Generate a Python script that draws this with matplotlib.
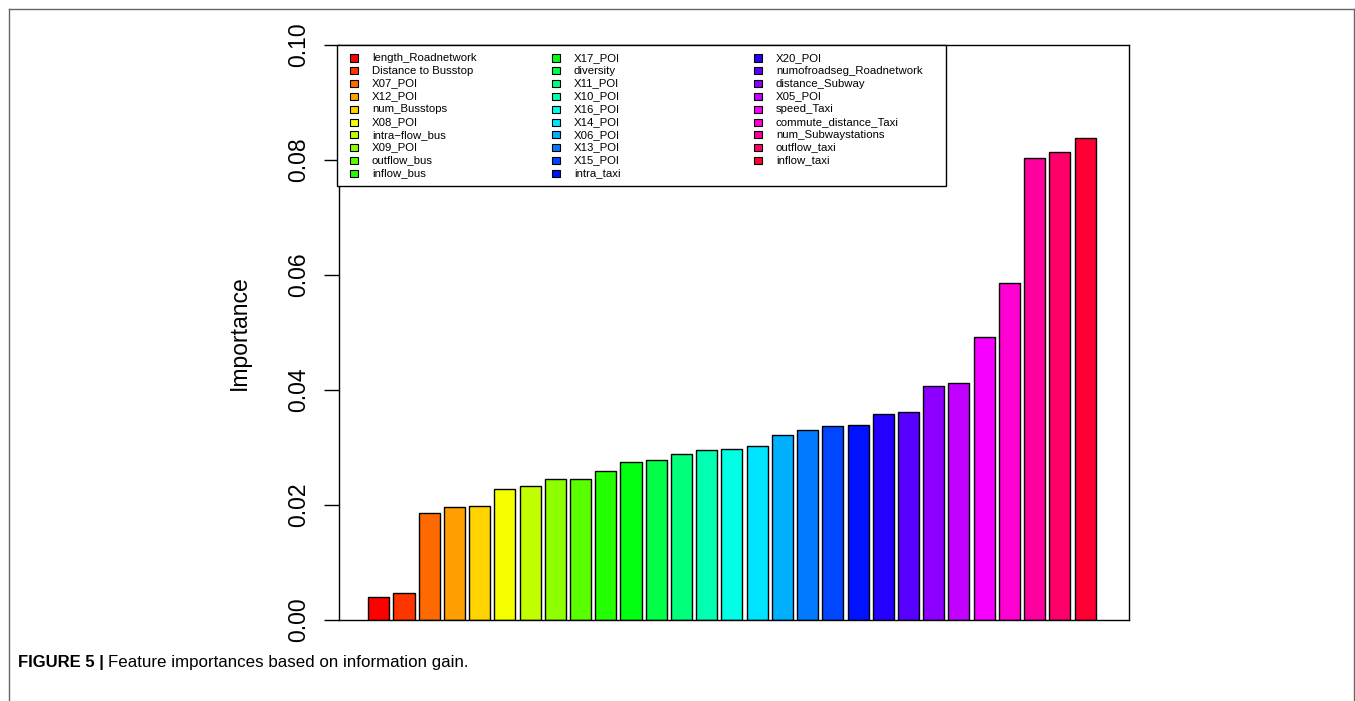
"""
Feature importance barplot (information gain)
"""

import colorsys

import matplotlib

matplotlib.use("Agg")
import matplotlib.pyplot as plt
from matplotlib.lines import Line2D
from matplotlib.patches import Rectangle

plt.rcParams["font.family"] = ["Liberation Sans", "DejaVu Sans"]

# データ
features = [
    "length_Roadnetwork", "Distance to Busstop", "X07_POI", "X12_POI",
    "num_Busstops", "X08_POI", "intra\u2212flow_bus", "X09_POI", "outflow_bus",
    "inflow_bus", "X17_POI", "diversity", "X11_POI", "X10_POI", "X16_POI",
    "X14_POI", "X06_POI", "X13_POI", "X15_POI", "intra_taxi", "X20_POI",
    "numofroadseg_Roadnetwork", "distance_Subway", "X05_POI", "speed_Taxi",
    "commute_distance_Taxi", "num_Subwaystations", "outflow_taxi", "inflow_taxi",
]
importance = [
    0.00405, 0.00464, 0.01855, 0.01965, 0.01983, 0.02284, 0.02330, 0.02446,
    0.02458, 0.02586, 0.02754, 0.02783, 0.02893, 0.02962, 0.02980, 0.03032,
    0.03217, 0.03304, 0.03380, 0.03397, 0.03577, 0.03612, 0.04070, 0.04122,
    0.04916, 0.05855, 0.08035, 0.08139, 0.08383,
]
y_ticks = [0.00, 0.02, 0.04, 0.06, 0.08, 0.10]

W, H = 1355, 701
n = len(features)
# R の rainbow(n) 相当
colors = [colorsys.hsv_to_rgb(i / n, 1, 1) for i in range(n)]

fig = plt.figure(figsize=(W / 100, H / 100), dpi=100)


def fx(px):
    return px / W


def fy(py):
    return 1 - py / H


ax_l, ax_r, ax_t, ax_b = 339, 1129, 45, 620
ax = fig.add_axes([fx(ax_l), fy(ax_b), fx(ax_r - ax_l), fy(ax_t) - fy(ax_b)])

# barplot (space = 0.2, width = 1)
xs = [0.7 + 1.2 * i for i in range(n)]
ax.bar(xs, importance, width=1.0, color=colors, edgecolor="black", linewidth=1.0)
span = 1.2 * n
ax.set_xlim(0.2 - 0.04 * span, 0.2 + span + 0.04 * span)
ax.set_ylim(0, 0.10)
ax.set_xticks([])
ax.set_yticks(y_ticks)
ax.set_yticklabels([f"{t:.2f}" for t in y_ticks], rotation=90, va="center", fontsize=16.5)
ax.tick_params(axis="y", length=10.5, width=1, pad=10.5, direction="out")
ax.set_ylabel("Importance", fontsize=16.5, labelpad=26)
for s in ax.spines.values():
    s.set_linewidth(1.0)
    s.set_color("black")

# 凡例 (R の legend を手描き)
leg_l, leg_t, leg_r, leg_b = 337, 45, 946, 186
fig.patches.append(
    Rectangle((fx(leg_l), fy(leg_b)), fx(leg_r - leg_l), fy(leg_t) - fy(leg_b),
              transform=fig.transFigure, facecolor="white", edgecolor="black",
              linewidth=1.0, zorder=5)
)
row0, row_h = 58, 12.8
col0, col_w = 350, 202
for i, (name, c) in enumerate(zip(features, colors)):
    col, row = divmod(i, 10)
    cx = col0 + col * col_w
    cy = row0 + row * row_h
    fig.patches.append(
        Rectangle((fx(cx), fy(cy + 3.5)), fx(8), fy(cy - 3.5) - fy(cy + 3.5),
                  transform=fig.transFigure, facecolor=c, edgecolor="black",
                  linewidth=0.8, zorder=6)
    )
    fig.text(fx(cx + 22), fy(cy), name, fontsize=8.2, va="center", ha="left", zorder=7)

# 外枠
frame_c = "#666666"
fig.add_artist(Line2D([fx(9), fx(9)], [fy(9), 0], color=frame_c, lw=1.0))
fig.add_artist(Line2D([fx(9), fx(1354)], [fy(9), fy(9)], color=frame_c, lw=1.0))
fig.add_artist(Line2D([fx(1354), fx(1354)], [fy(9), 0], color=frame_c, lw=1.0))

# キャプション
t1 = fig.text(fx(18), fy(662), "FIGURE 5 |", fontsize=12, fontweight="bold", va="center")
renderer = fig.canvas.get_renderer()
bb = t1.get_window_extent(renderer)
fig.text(bb.x1 / W + fx(4), fy(662), "Feature importances based on information gain.",
         fontsize=12.2, va="center")

plt.savefig("out.png", dpi=100)
plt.close()
